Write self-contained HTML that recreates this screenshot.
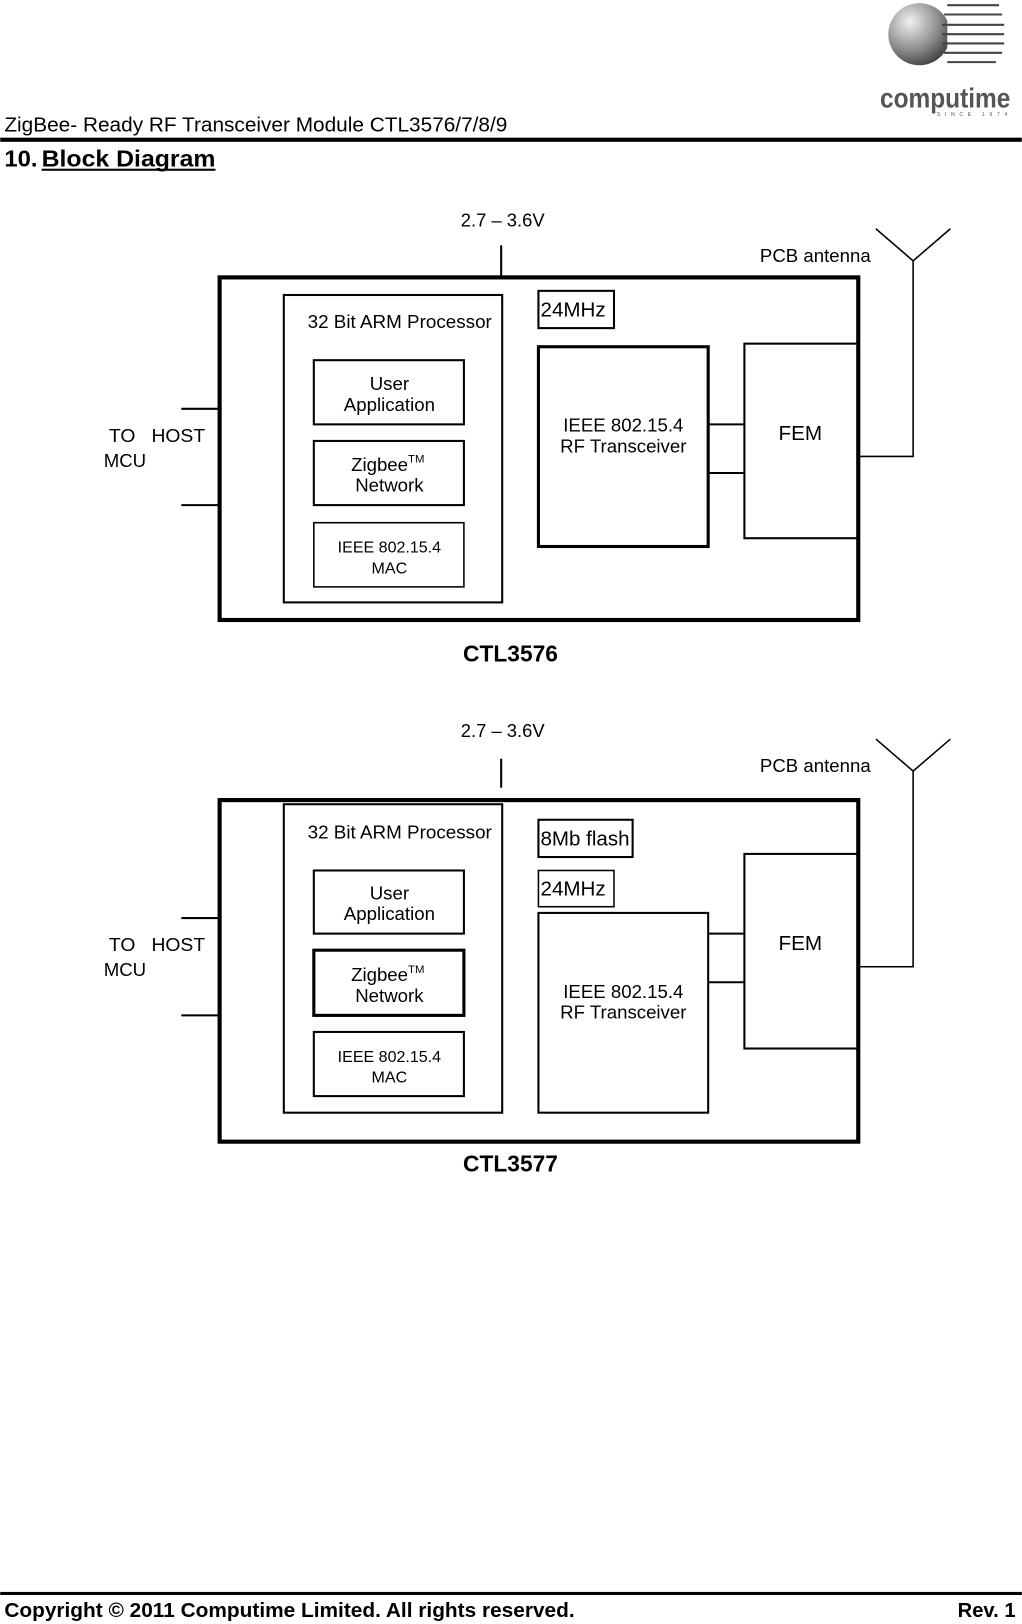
<!DOCTYPE html>
<html><head><meta charset="utf-8"><style>
html,body{margin:0;padding:0;background:#fff}
svg{display:block}
text{font-family:"Liberation Sans",sans-serif;fill:#000}
</style></head><body>
<svg width="1022" height="1624" viewBox="0 0 987 1569" xmlns="http://www.w3.org/2000/svg">
<rect width="987" height="1569" fill="#fff"/>
<defs><radialGradient id="g" cx="0.35" cy="0.3" r="0.8"><stop offset="0" stop-color="#f0f0f0"/><stop offset="0.6" stop-color="#888"/><stop offset="1" stop-color="#333"/></radialGradient></defs>
<circle cx="888" cy="33" r="30" fill="url(#g)"/>
<rect x="915" y="0" width="60" height="70" fill="#fff"/>
<g stroke="#444" stroke-width="2">
<line x1="915" y1="5" x2="965" y2="5"/><line x1="912" y1="14" x2="968" y2="14"/><line x1="910" y1="24" x2="970" y2="24"/><line x1="910" y1="33" x2="970" y2="33"/><line x1="910" y1="42" x2="970" y2="42"/><line x1="912" y1="51" x2="968" y2="51"/><line x1="915" y1="60" x2="962" y2="60"/>
</g>
<text x="850" y="104" font-size="27" font-weight="bold" textLength="126" lengthAdjust="spacingAndGlyphs" style="fill:#555">computime</text>
<text x="905" y="112" font-size="5" textLength="68" style="fill:#555">SINCE 1974</text>
<text x="4" y="127" font-size="19.5" textLength="486" lengthAdjust="spacingAndGlyphs">ZigBee- Ready RF Transceiver Module CTL3576/7/8/9</text>
<rect x="0" y="133" width="987" height="4" fill="#000"/>
<text x="4" y="161" font-size="22" font-weight="bold" textLength="32" lengthAdjust="spacingAndGlyphs">10.</text>
<text x="40" y="161" font-size="22" font-weight="bold" textLength="168" lengthAdjust="spacingAndGlyphs">Block Diagram</text>
<rect x="40" y="163" width="168" height="2" fill="#000"/>

<g fill="none" stroke="#000">
<line x1="484" y1="237" x2="484" y2="268" stroke-width="2"/>
<polyline points="846,221 882,252 918,221" stroke-width="1.5"/>
<polyline points="882,252 882,441 829,441" stroke-width="1.5"/>
<rect x="212" y="268" width="617" height="331" stroke-width="4"/>
<rect x="274" y="285" width="211" height="297" stroke-width="2"/>
<rect x="303" y="348" width="145" height="62" stroke-width="2"/>
<rect x="303" y="426" width="145" height="62" stroke-width="2"/>
<rect x="303" y="505" width="145" height="62" stroke-width="1.5"/>
<rect x="520" y="281" width="73" height="36" stroke-width="2"/>
<rect x="520" y="335" width="164" height="193" stroke-width="3"/>
<rect x="719" y="332" width="110" height="188" stroke-width="2"/>
<line x1="684" y1="410" x2="719" y2="410" stroke-width="2"/>
<line x1="684" y1="457" x2="719" y2="457" stroke-width="2"/>
<line x1="175" y1="395" x2="212" y2="395" stroke-width="2"/>
<line x1="175" y1="488" x2="212" y2="488" stroke-width="2"/>
<line x1="484" y1="733" x2="484" y2="761" stroke-width="2"/>
<polyline points="846,714 882,745 918,714" stroke-width="1.5"/>
<polyline points="882,745 882,934 829,934" stroke-width="1.5"/>
<rect x="212" y="773" width="617" height="330" stroke-width="4"/>
<rect x="274" y="777" width="211" height="298" stroke-width="2"/>
<rect x="303" y="841" width="145" height="61" stroke-width="2"/>
<rect x="303" y="918" width="145" height="63" stroke-width="3"/>
<rect x="303" y="997" width="145" height="62" stroke-width="2"/>
<rect x="520" y="792" width="91" height="36" stroke-width="2"/>
<rect x="520" y="841" width="73" height="35" stroke-width="1.5"/>
<rect x="520" y="882" width="164" height="193" stroke-width="2"/>
<rect x="719" y="825" width="110" height="188" stroke-width="2"/>
<line x1="684" y1="902" x2="719" y2="902" stroke-width="2"/>
<line x1="684" y1="949" x2="719" y2="949" stroke-width="2"/>
<line x1="175" y1="887" x2="212" y2="887" stroke-width="2"/>
<line x1="175" y1="981" x2="212" y2="981" stroke-width="2"/>
</g>

<g font-size="18">
<text x="445" y="219" textLength="81" lengthAdjust="spacingAndGlyphs">2.7 – 3.6V</text>
<text x="734" y="253" textLength="107" lengthAdjust="spacingAndGlyphs">PCB antenna</text>
<text x="297" y="317" textLength="178" lengthAdjust="spacingAndGlyphs">32 Bit ARM Processor</text>
<text x="376" y="377" text-anchor="middle">User</text>
<text x="376" y="397" text-anchor="middle">Application</text>
<text x="339" y="455">Zigbee</text>
<text x="394" y="447" font-size="11">TM</text>
<text x="376" y="475" text-anchor="middle">Network</text>
<text x="376" y="534" font-size="15.5" text-anchor="middle">IEEE 802.15.4</text>
<text x="376" y="554" font-size="15.5" text-anchor="middle">MAC</text>
<text x="522" y="306" font-size="20" textLength="63" lengthAdjust="spacingAndGlyphs">24MHz</text>
<text x="602" y="417" text-anchor="middle">IEEE 802.15.4</text>
<text x="602" y="437" text-anchor="middle">RF Transceiver</text>
<text x="773" y="425" font-size="20" text-anchor="middle">FEM</text>
<text x="105" y="427" xml:space="preserve" textLength="93" lengthAdjust="spacingAndGlyphs">TO   HOST</text>
<text x="100" y="451">MCU</text>
<text x="493" y="639" font-size="22" font-weight="bold" text-anchor="middle">CTL3576</text>

<text x="445" y="712" textLength="81" lengthAdjust="spacingAndGlyphs">2.7 – 3.6V</text>
<text x="734" y="746" textLength="107" lengthAdjust="spacingAndGlyphs">PCB antenna</text>
<text x="297" y="810" textLength="178" lengthAdjust="spacingAndGlyphs">32 Bit ARM Processor</text>
<text x="376" y="869" text-anchor="middle">User</text>
<text x="376" y="889" text-anchor="middle">Application</text>
<text x="339" y="948">Zigbee</text>
<text x="394" y="940" font-size="11">TM</text>
<text x="376" y="968" text-anchor="middle">Network</text>
<text x="376" y="1026" font-size="15.5" text-anchor="middle">IEEE 802.15.4</text>
<text x="376" y="1046" font-size="15.5" text-anchor="middle">MAC</text>
<text x="522" y="817" font-size="20" textLength="86" lengthAdjust="spacingAndGlyphs">8Mb flash</text>
<text x="522" y="865" font-size="20" textLength="63" lengthAdjust="spacingAndGlyphs">24MHz</text>
<text x="602" y="964" text-anchor="middle">IEEE 802.15.4</text>
<text x="602" y="984" text-anchor="middle">RF Transceiver</text>
<text x="773" y="918" font-size="20" text-anchor="middle">FEM</text>
<text x="105" y="919" xml:space="preserve" textLength="93" lengthAdjust="spacingAndGlyphs">TO   HOST</text>
<text x="100" y="943">MCU</text>
<text x="493" y="1132" font-size="22" font-weight="bold" text-anchor="middle">CTL3577</text>
</g>

<rect x="0" y="1538" width="987" height="3" fill="#000"/>
<text x="4" y="1562" font-size="19.5" font-weight="bold" textLength="551" lengthAdjust="spacingAndGlyphs">Copyright © 2011 Computime Limited. All rights reserved.</text>
<text x="981" y="1562" font-size="19.5" font-weight="bold" text-anchor="end">Rev. 1</text>
</svg>
</body></html>
